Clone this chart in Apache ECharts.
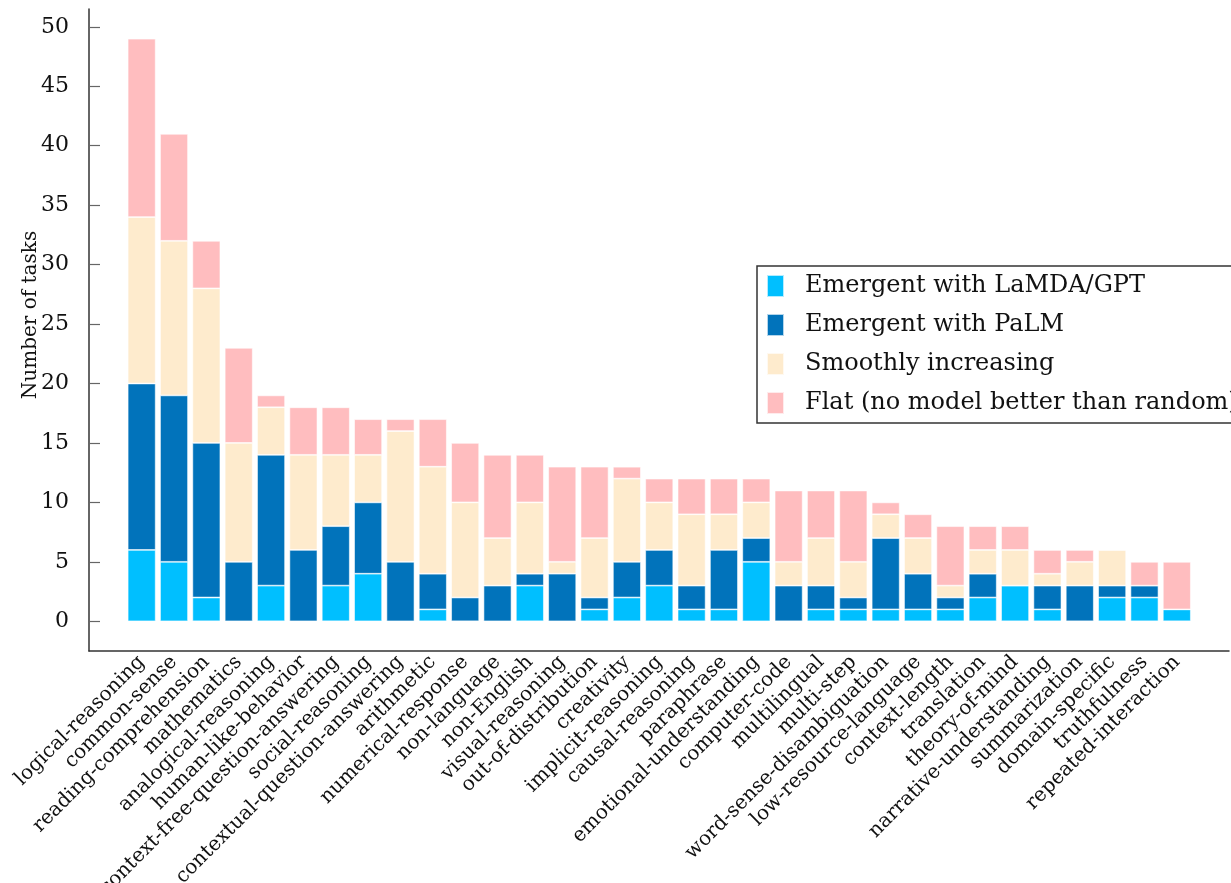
<!DOCTYPE html>
<html>
<head>
<meta charset="utf-8">
<title>Emergent abilities by task type</title>
<script src="https://cdn.jsdelivr.net/npm/echarts@6.0.0/dist/echarts.min.js"></script>
<style>
  html, body { margin: 0; padding: 0; background: #fff; }
  #chart { width: 1231px; height: 883px; }
</style>
</head>
<body>
<div id="chart"></div>
<script>
const categories = [
  "logical-reasoning", "common-sense", "reading-comprehension", "mathematics",
  "analogical-reasoning", "human-like-behavior", "context-free-question-answering",
  "social-reasoning", "contextual-question-answering", "arithmetic",
  "numerical-response", "non-language", "non-English", "visual-reasoning",
  "out-of-distribution", "creativity", "implicit-reasoning", "causal-reasoning",
  "paraphrase", "emotional-understanding", "computer-code", "multilingual",
  "multi-step", "word-sense-disambiguation", "low-resource-language",
  "context-length", "translation", "theory-of-mind", "narrative-understanding",
  "summarization", "domain-specific", "truthfulness", "repeated-interaction"
]

// number of tasks per category, one array per stack segment
const emergentLamda = [6, 5, 2, 0, 3, 0, 3, 4, 0, 1, 0, 0, 3, 0, 1, 2, 3, 1, 1, 5, 0, 1, 1, 1, 1, 1, 2, 3, 1, 0, 2, 2, 1]
const emergentPalm = [14, 14, 13, 5, 11, 6, 5, 6, 5, 3, 2, 3, 1, 4, 1, 3, 3, 2, 5, 2, 3, 2, 1, 6, 3, 1, 2, 0, 2, 3, 1, 1, 0]
const smoothly = [14, 13, 13, 10, 4, 8, 6, 4, 11, 9, 8, 4, 6, 1, 5, 7, 4, 6, 3, 3, 2, 4, 3, 2, 3, 1, 2, 3, 1, 2, 3, 0, 0]
const flat = [15, 9, 4, 8, 1, 4, 4, 3, 1, 4, 5, 7, 4, 8, 6, 1, 2, 3, 3, 2, 6, 4, 6, 1, 2, 5, 2, 2, 2, 1, 0, 2, 4]

const yTicks = [0, 5, 10, 15, 20, 25, 30, 35, 40, 45, 50]

const seriesNames = [
  "Emergent with LaMDA/GPT",
  "Emergent with PaLM",
  "Smoothly increasing",
  "Flat (no model better than random)"
]
const colors = ["#00bfff", "#0173bb", "#feebcd", "#ffbdbf"]

const font = "DejaVu Serif"
const chart = echarts.init(document.getElementById("chart"))

function bar(name, data, color) {
  return {
    name: name,
    type: "bar",
    stack: "tasks",
    data: data,
    barWidth: 28,
    xAxisIndex: 0,
    yAxisIndex: 0,
    itemStyle: {
      color: color,
      borderColor: "rgba(255,255,255,0.7)",
      borderWidth: 0.8,
    },
  }
}

const option = {
  animation: false,
  backgroundColor: "#fff",
  textStyle: { fontFamily: font, color: "#111" },
  color: colors,
  legend: {
    orient: "vertical",
    left: 757,
    top: 266,
    padding: [8, 12, 8, 9],
    itemWidth: 17,
    itemHeight: 22,
    itemGap: 15,
    borderColor: "#333",
    borderWidth: 1.5,
    icon: "rect",
    data: seriesNames,
    textStyle: {
      fontFamily: font,
      fontSize: 24,
      color: "#111",
      padding: [0, 0, 0, 16],
    },
  },
  grid: [
    // bars
    { left: 125.5, right: 38, top: 9, bottom: 232, outerBoundsMode: "none" },
    // outer frame for the long x axis line
    { left: 89, right: 2, top: 9, bottom: 232, outerBoundsMode: "none" },
  ],
  xAxis: [
    {
      type: "category",
      gridIndex: 0,
      data: categories,
      axisLine: { show: false },
      axisTick: {
        alignWithLabel: true,
        inside: true,
        length: 11,
        lineStyle: { color: "#666", width: 1.2 },
      },
      axisLabel: {
        interval: 0,
        rotate: 45,
        margin: 8,
        fontFamily: font,
        fontSize: 20,
        color: "#111",
      },
    },
    {
      type: "value",
      gridIndex: 1,
      min: 0,
      max: 1,
      axisLine: { show: true, lineStyle: { color: "#333", width: 1.5 } },
      axisTick: { show: false },
      axisLabel: { show: false },
      splitLine: { show: false },
    },
  ],
  yAxis: [
    {
      type: "value",
      gridIndex: 0,
      min: -2.5,
      max: 51.5,
      offset: 36.5,
      name: "Number of tasks",
      nameLocation: "middle",
      nameGap: 48,
      nameMoveOverlap: false,
      nameTextStyle: { fontFamily: font, fontSize: 20, color: "#111", padding: [0, 0, 0, 30] },
      axisLine: { show: true, lineStyle: { color: "#333", width: 1.5 } },
      axisTick: {
        show: true,
        inside: true,
        length: 11,
        customValues: yTicks,
        lineStyle: { color: "#666", width: 1.2 },
      },
      axisLabel: {
        customValues: yTicks,
        margin: 20,
        fontFamily: font,
        fontSize: 22,
        color: "#111",
      },
      splitLine: { show: false },
    },
    {
      type: "value",
      gridIndex: 1,
      show: false,
    },
  ],
  series: [
    bar(seriesNames[0], emergentLamda, colors[0]),
    bar(seriesNames[1], emergentPalm, colors[1]),
    bar(seriesNames[2], smoothly, colors[2]),
    bar(seriesNames[3], flat, colors[3]),
  ],
}

chart.setOption(option)
</script>
</body>
</html>
